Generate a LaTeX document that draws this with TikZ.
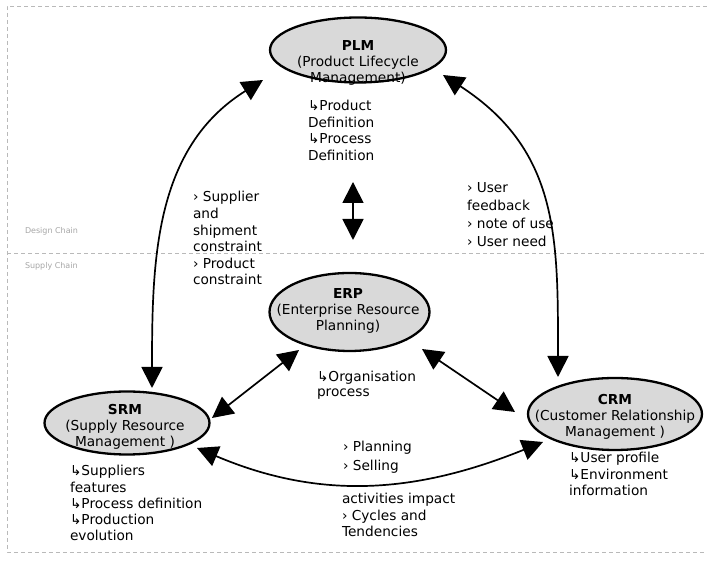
\documentclass[tikz,border=0pt]{standalone}
\usepackage{fontspec}
\setmainfont{DejaVu Sans}
\usetikzlibrary{arrows.meta,shapes.geometric}
\begin{document}
\begin{tikzpicture}[x=1pt,y=1pt,
  every node/.style={inner sep=0pt, outer sep=0pt},
  txt/.style={font=\fontsize{13.7}{#1}\selectfont},
  txt/.default=16,
  sysbox/.style={ellipse, draw=black, line width=2.3pt, fill=gray!30},
  systext/.style={txt=16, align=center, anchor=center},
  note/.style={align=left, anchor=north west},
  link/.style={line width=1.7pt, {Triangle[length=21pt,width=21pt]}-{Triangle[length=21pt,width=21pt]}},
  border/.style={gray!55, line width=0.9pt, dash pattern=on 4pt off 3pt},
  chain/.style={font=\fontsize{8}{9}\selectfont, text=gray!70, anchor=west}]
\useasboundingbox (0,0) rectangle (707,564);
% frame
\coordinate (ftl) at (7,558);
\coordinate (ftr) at (707,558);
\coordinate (fbl) at (7,12);
\coordinate (fbr) at (707,12);
\coordinate (dl) at (7,311);
\coordinate (dr) at (707,311);
\draw[border] (ftr) -- (ftl) -- (fbl) -- (fbr);
\draw[border] (dl) -- (dr);
\node[chain] (design) at (25,333) {Design Chain};
\node[chain] (supply) at (25,298) {Supply Chain};
% systems
\node[sysbox, minimum width=176, minimum height=65] (plm) at (358,514) {};
\node[systext] (plmt) at (358,501) {\textbf{PLM}\\(Product Lifecycle\\Management)};
\node[sysbox, minimum width=160, minimum height=78] (erp) at (349.5,252) {};
\node[systext] (erpt) at (348,253) {\textbf{ERP}\\(Enterprise Resource\\Planning)};
\node[sysbox, minimum width=165, minimum height=63] (srm) at (127,141) {};
\node[systext] (srmt) at (125,137) {\textbf{SRM}\\(Supply Resource\\Management )};
\node[sysbox, minimum width=174, minimum height=72] (crm) at (615,150) {};
\node[systext] (crmt) at (615,147) {\textbf{CRM}\\(Customer Relationship\\Management )};
% connector ends
\coordinate (plmL) at (263,484);
\coordinate (srmT) at (152,176);
\coordinate (plmR) at (443,489);
\coordinate (crmT) at (558,187);
\coordinate (srmR) at (197,116);
\coordinate (crmL) at (543,122);
\coordinate (srmE) at (212,146);
\coordinate (erpL) at (299,214);
\coordinate (erpR) at (422,215);
\coordinate (crmE) at (515,152);
\coordinate (plmB) at (353,382);
\coordinate (erpT) at (353,324);
% connectors
\draw[link] (plmL) to[out=212,in=90] (srmT);
\draw[link] (plmR) to[out=-33,in=90,looseness=1.1] (crmT);
\draw[link] (srmR) to[out=-23,in=202] (crmL);
\draw[link] (srmE) -- (erpL);
\draw[link] (erpR) -- (crmE);
\draw[link] (plmB) -- (erpT);
% notes
\node[note, txt=16.5] (n1) at (308,463.5) {↳Product\\Definition\\↳Process\\Definition};
\node[note, txt=16.6] (n2) at (193,372.5) {› Supplier\\and\\shipment\\constraint\\› Product\\constraint};
\node[note, txt=18] (n3) at (467,381.5) {› User\\feedback\\› note of use\\› User need};
\node[note, txt=15] (n4) at (317,192.5) {↳Organisation\\process};
\node[note, txt=16.25] (n5) at (70,98.5) {↳Suppliers\\features\\↳Process definition\\↳Production\\evolution};
\node[note, txt=16.5] (n6) at (569,111.5) {↳User profile\\↳Environment\\information};
\node[note, txt=19] (n7) at (343,122.5) {› Planning\\› Selling};
\node[note, txt=16.2] (n8) at (342,70.5) {activities impact\\› Cycles and\\Tendencies};
\end{tikzpicture}
\end{document}
